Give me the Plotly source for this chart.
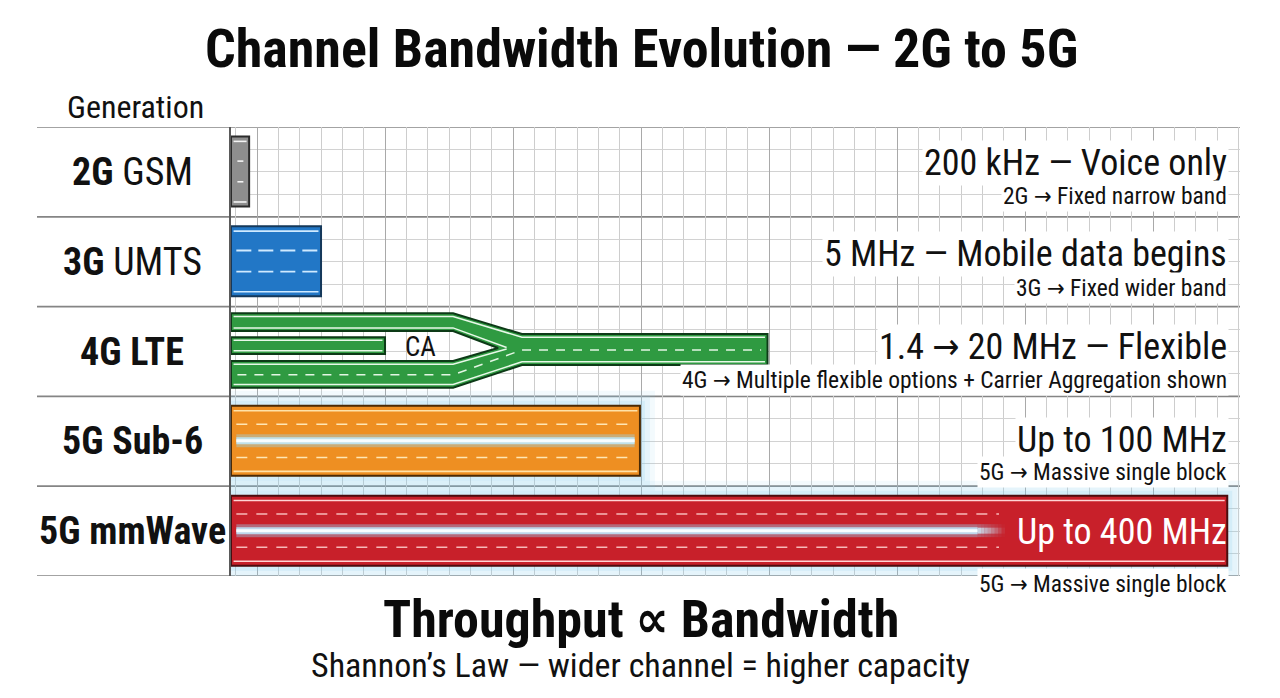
import plotly.graph_objects as go

# ---------------- data ----------------
row_labels = ["<b>2G</b> GSM", "<b>3G</b> UMTS", "<b>4G LTE</b>", "<b>5G Sub-6</b>", "<b>5G mmWave</b>"]
bandwidth_labels = ["200 kHz — Voice only", "5 MHz — Mobile data begins",
                    "1.4 → 20 MHz — Flexible", "Up to 100 MHz", "Up to 400 MHz"]
note_labels = ["2G → Fixed narrow band", "3G → Fixed wider band",
               "4G → Multiple flexible options + Carrier Aggregation shown",
               "5G → Massive single block", "5G → Massive single block"]
# drawn channel length, in grid cells (illustrative, not to scale)
channel_length = [0.85, 4.22, 25.15, 19.17, 46.7]
# 4G carrier-aggregation lanes, in grid cells
lte_lane_end = 10.41
lte_merge_end = 13.64
lte_apex = 12.52
lte_short_lane = 7.22
ca_label_x = 8.86
mmwave_glow_end = 35.0
mmwave_dash_end = 36.0

fill_colors = ["#8e8e8e", "#2277c6", "#2f9a41", "#ee8f22", "#c8202a"]
border_colors = ["#2b2b2b", "#15385a", "#0d3a17", "#4a2a05", "#4a0c0e"]
edge_colors = ["#f4f4f4", "#cfeaff", "#e8f8e8", "#ffe2a8", "#ffd4d4"]
dash_colors = ["#f4f4f4", "#cfeaff", "#e3f6e3", "#ffe6b4", "#f7b8b8"]

FONT = "Liberation Sans Narrow, Roboto Condensed, DejaVu Sans Condensed, Roboto, sans-serif"

# ---------------- layout geometry ----------------
W, H = 1280, 698
L_PX, R_PX, T_PX, B_PX = 231, 1240, 127, 576
X_MAX = (R_PX - L_PX) / 21.333
ROW_PX = (B_PX - T_PX) / 5.0
XU = 21.333  # px per x unit


def px_x(px):
    return (px - L_PX) / (R_PX - L_PX)


def px_y(py):
    return (B_PX - py) / (B_PX - T_PX)


fig = go.Figure()
shapes = []
annotations = []

# row separators extending to the label column
for k in range(6):
    shapes.append(dict(type="line", xref="paper", yref="y", x0=px_x(37), x1=1, y0=k, y1=k,
                       line=dict(color="#858585", width=1.7), layer="between"))

# glow halos around 5G bars
for i in (3, 4):
    Lc = channel_length[i]
    for r, a in ((15, 0.10), (10, 0.13), (5, 0.18)):
        shapes.append(dict(type="rect", xref="x", yref="y", x0=0, x1=min(Lc + r / XU, X_MAX),
                           y0=i + 0.105 - r / ROW_PX, y1=i + 0.885 + r / ROW_PX,
                           fillcolor=f"rgba(140,205,238,{a})", line=dict(width=0),
                           layer="between"))

# simple bars (all but 4G)
bar_rows = [0, 1, 3, 4]
fig.add_trace(go.Bar(
    x=[channel_length[i] for i in bar_rows],
    y=[i + 0.495 for i in bar_rows],
    base=0, orientation="h", width=0.78,
    marker=dict(color=[fill_colors[i] for i in bar_rows],
                line=dict(color=[border_colors[i] for i in bar_rows], width=2)),
    hoverinfo="skip", showlegend=False))


def add_line(xs, ys, color, width, dash="solid", opacity=1.0):
    fig.add_trace(go.Scatter(x=xs, y=ys, mode="lines", opacity=opacity,
                             line=dict(color=color, width=width, dash=dash),
                             hoverinfo="skip", showlegend=False))


# lane markings for the simple bars
for i in bar_rows:
    Lc = channel_length[i]
    pad = 0.12
    for f in (0.16, 0.835):
        add_line([pad, Lc - pad], [i + f, i + f], edge_colors[i], 1.6)
    if i == 0:
        for f in (0.38, 0.61):
            add_line([0.3, 0.58], [i + f, i + f], dash_colors[i], 1.6)
    elif i == 1:
        for f in (0.375, 0.61):
            add_line([0.25, Lc - 0.15], [i + f, i + f], dash_colors[i], 1.8, dash="15px,7px")
    else:
        dash_end = Lc - 0.25 if i == 3 else mmwave_dash_end
        for f in (0.31, 0.68):
            add_line([0.25, dash_end], [i + f, i + f], dash_colors[i], 1.5, dash="11px,9px")
        glow_end = Lc - 0.25 if i == 3 else mmwave_glow_end
        yc = i + 0.495
        add_line([0.25, glow_end], [yc, yc], "rgba(150,215,245,0.40)", 13)
        add_line([0.25, glow_end], [yc, yc], "rgba(190,234,255,0.85)", 7)
        add_line([0.25, glow_end], [yc, yc], "#f8fdff", 3)
        if i == 4:
            steps = 8
            for s in range(steps):
                op = 0.85 * (1 - (s + 0.5) / steps)
                x0 = glow_end + s * 0.16
                add_line([x0, x0 + 0.16], [yc, yc], "rgba(150,215,245,0.40)", 13, opacity=op)
                add_line([x0, x0 + 0.16], [yc, yc], "rgba(205,240,255,1)", 6, opacity=op)

# ---------------- 4G LTE (carrier aggregation) ----------------
r0 = 2
T1, T2 = r0 + 0.074, r0 + 0.273
B1, B2 = r0 + 0.605, r0 + 0.904
M1, M2 = r0 + 0.306, r0 + 0.650
AP = r0 + 0.461
MC = r0 + 0.483
BC = r0 + 0.760
a, m, Lm = lte_lane_end, lte_merge_end, channel_length[2]
g_fill, g_border = fill_colors[2], border_colors[2]

poly_x = [0, a, m, Lm, Lm, m, a, 0, 0, a, lte_apex, a, 0, 0]
poly_y = [T1, T1, M1, M1, M2, M2, B2, B2, B1, B1, AP, T2, T2, T1]
fig.add_trace(go.Scatter(x=poly_x, y=poly_y, mode="lines", fill="toself", fillcolor=g_fill,
                         line=dict(color=g_border, width=2), hoverinfo="skip", showlegend=False))
mid_t, mid_b = r0 + 0.34, r0 + 0.528
fig.add_trace(go.Scatter(x=[0, lte_short_lane, lte_short_lane, 0, 0],
                         y=[mid_t, mid_t, mid_b, mid_b, mid_t], mode="lines", fill="toself",
                         fillcolor=g_fill, line=dict(color=g_border, width=2),
                         hoverinfo="skip", showlegend=False))
ins = 3.2 / ROW_PX
ec = edge_colors[2]
add_line([0.12, a, m, Lm - 0.12], [T1 + ins, T1 + ins, M1 + ins, M1 + ins], ec, 1.5)
add_line([0.12, a, m, Lm - 0.12], [B2 - ins, B2 - ins, M2 - ins, M2 - ins], ec, 1.5)
add_line([0.12, a, lte_apex + 0.4], [T2 - ins, T2 - ins, AP - 0.005], ec, 1.5)
add_line([0.12, a, lte_apex + 0.4], [B1 + ins, B1 + ins, AP + 0.012], ec, 1.5)
add_line([0.12, lte_short_lane - 0.12], [mid_t + ins, mid_t + ins], ec, 1.5)
add_line([0.12, lte_short_lane - 0.12], [mid_b - ins, mid_b - ins], ec, 1.5)
add_line([0.3, a, m, Lm - 0.3], [BC, BC, MC, MC], dash_colors[2], 1.5, dash="9px,8px")
annotations.append(dict(x=ca_label_x, y=r0 + 0.45, xref="x", yref="y", text="CA",
                        showarrow=False, font=dict(family=FONT, size=27, color="#111")))

# ---------------- texts ----------------
main_y = [163, 254, 347, 440, 532]
sub_y = [196, 288, 380, 472, 584]
for i in range(5):
    annotations.append(dict(x=px_x(132), y=i + 0.5, xref="paper", yref="y", text=row_labels[i],
                            showarrow=False, xanchor="center", yanchor="middle",
                            font=dict(family=FONT, size=38, color="#111")))
    inside = (i == 4)
    annotations.append(dict(x=px_x(1229), y=px_y(main_y[i]), xref="paper", yref="paper",
                            text=bandwidth_labels[i], showarrow=False, xanchor="right",
                            yanchor="middle",
                            bgcolor=None if inside else "white", borderpad=1,
                            font=dict(family=FONT, size=36, color="white" if inside else "#111")))
    annotations.append(dict(x=px_x(1229), y=px_y(sub_y[i]), xref="paper", yref="paper",
                            text=note_labels[i], showarrow=False, xanchor="right",
                            yanchor="middle", bgcolor="white", borderpad=1,
                            font=dict(family=FONT, size=23.5, color="#111")))

annotations.append(dict(x=px_x(641), y=px_y(48), xref="paper", yref="paper",
                        text="<b>Channel Bandwidth Evolution — 2G to 5G</b>", showarrow=False,
                        xanchor="center", yanchor="middle",
                        font=dict(family=FONT, size=54, color="#0a0a0a")))
annotations.append(dict(x=px_x(65), y=px_y(107), xref="paper", yref="paper",
                        text="Generation", showarrow=False, xanchor="left", yanchor="middle",
                        font=dict(family=FONT, size=32, color="#111")))
annotations.append(dict(x=px_x(641), y=px_y(619), xref="paper", yref="paper",
                        text="<b>Throughput ∝ Bandwidth</b>", showarrow=False,
                        xanchor="center", yanchor="middle",
                        font=dict(family=FONT, size=52, color="#0a0a0a")))
annotations.append(dict(x=px_x(640), y=px_y(665), xref="paper", yref="paper",
                        text="Shannon’s Law — wider channel = higher capacity", showarrow=False,
                        xanchor="center", yanchor="middle",
                        font=dict(family=FONT, size=34, color="#111")))

fig.update_layout(
    width=W, height=H,
    margin=dict(l=L_PX, r=W - R_PX, t=T_PX, b=H - B_PX, pad=0),
    paper_bgcolor="white", plot_bgcolor="white",
    showlegend=False, barmode="overlay",
    shapes=shapes, annotations=annotations,
    xaxis=dict(range=[0, X_MAX], showticklabels=False, ticks="", zeroline=False,
               showgrid=True, gridcolor="#a9a9a9", gridwidth=1.2, tick0=1.233, dtick=6,
               minor=dict(showgrid=True, gridcolor="#cdcdcd", gridwidth=1, tick0=0.233, dtick=1),
               showline=False, fixedrange=True),
    yaxis=dict(range=[5, 0], showticklabels=False, ticks="", zeroline=False,
               showgrid=False, tick0=0, dtick=1,
               minor=dict(showgrid=True, gridcolor="#d2d2d2", gridwidth=1, tick0=0, dtick=0.25),
               showline=True, linecolor="#5a5a5a", linewidth=1.5, mirror=False, fixedrange=True),
)

fig.write_html("out.html", config={"displayModeBar": False},
               post_script="document.body.style.margin='0px';document.body.style.overflow='hidden';")
